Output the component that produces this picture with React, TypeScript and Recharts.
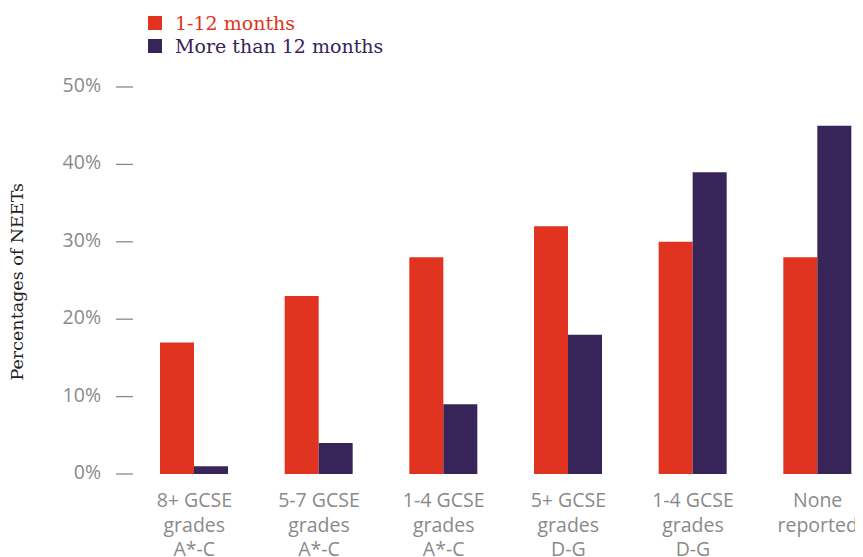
import { BarChart, Bar, XAxis, YAxis, Legend } from "recharts";

const categories = [
  ["8+ GCSE", "grades", "A*-C"],
  ["5-7 GCSE", "grades", "A*-C"],
  ["1-4 GCSE", "grades", "A*-C"],
  ["5+ GCSE", "grades", "D-G"],
  ["1-4 GCSE", "grades", "D-G"],
  ["None", "reported"],
];
const shortTerm = [17, 23, 28, 32, 30, 28];
const longTerm = [1, 4, 9, 18, 39, 45];
const yTicks = [0, 10, 20, 30, 40, 50];

const RED = "#E03421";
const PURPLE = "#372458";
const GREY = "#8a8a8a";
const SANS = "'Open Sans', sans-serif";
const SERIF = "'DejaVu Serif', serif";

const data = categories.map((lines, i) => ({
  name: lines.join(" "),
  short: shortTerm[i],
  long: longTerm[i],
}));

function XTick({ x, y, index }: any) {
  const lines = categories[index] || [];
  return (
    <text x={x} y={y} textAnchor="middle" fill={GREY} fontFamily={SANS} fontSize={19.5}>
      {lines.map((l, i) => (
        <tspan key={i} x={x} dy={i === 0 ? 25 : 24.5}>
          {l}
        </tspan>
      ))}
    </text>
  );
}

function YTick({ y, payload }: any) {
  return (
    <g>
      <text x={93} y={y} dy={5} textAnchor="end" fill={GREY} fontFamily={SANS} fontSize={19.5}>
        {payload.value}%
      </text>
      <line x1={108} x2={125} y1={y} y2={y} stroke={GREY} strokeWidth={1.3} />
    </g>
  );
}

function LegendBox() {
  const items = [
    { label: "1-12 months", color: RED },
    { label: "More than 12 months", color: PURPLE },
  ];
  return (
    <div style={{ fontFamily: SERIF }}>
      {items.map((it) => (
        <div key={it.label} style={{ display: "flex", alignItems: "center", height: 23 }}>
          <span style={{ width: 14, height: 14, background: it.color, display: "inline-block", marginRight: 13 }} />
          <span style={{ color: it.color, fontSize: 19 }}>{it.label}</span>
        </div>
      ))}
    </div>
  );
}

export default function App() {
  return (
    <div style={{ width: 855, height: 549, overflow: "hidden" }}>
      <BarChart
        width={872}
        height={549}
        data={data}
        margin={{ top: 33, right: 0, bottom: 3, left: 0 }}
        barCategoryGap={28}
        barGap={0}
      >
        <XAxis dataKey="name" axisLine={false} tickLine={false} interval={0} height={80} tick={<XTick />} />
        <YAxis
          domain={[0, 50]}
          ticks={yTicks}
          width={124}
          axisLine={false}
          tickLine={false}
          tick={<YTick />}
          label={{
            value: "Percentages of NEETs",
            angle: -90,
            position: "insideLeft",
            dx: 4,
            dy: 100,
            style: { fontFamily: SERIF, fontSize: 17.5, fill: "#222" },
          }}
        />
        <Legend
          verticalAlign="top"
          content={<LegendBox />}
          wrapperStyle={{ position: "absolute", top: 3, left: 140, width: 300 }}
        />
        <Bar dataKey="short" fill={RED} isAnimationActive={false} />
        <Bar dataKey="long" fill={PURPLE} isAnimationActive={false} />
      </BarChart>
    </div>
  );
}
